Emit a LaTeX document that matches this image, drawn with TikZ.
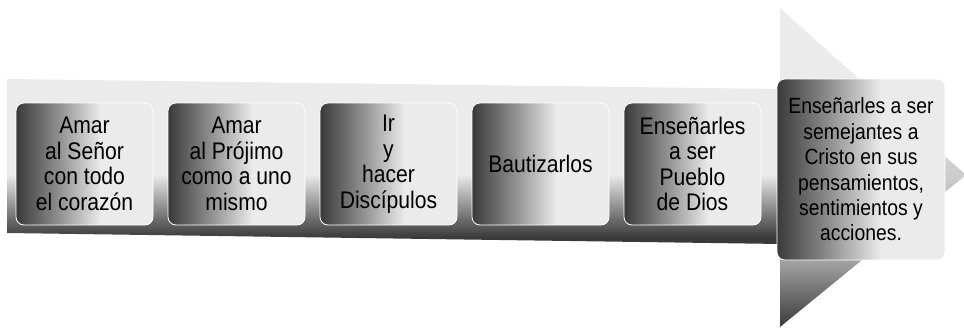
\documentclass[tikz,border=0pt]{standalone}
\usepackage{fontspec}
\setmainfont{Liberation Sans}[FakeStretch=0.88]
\usetikzlibrary{shapes.geometric, positioning, calc}

\definecolor{greylight}{HTML}{EBEBEB}
\definecolor{greydark}{HTML}{3A3A3A}
\definecolor{greymid}{HTML}{8C8C8C}

\pgfdeclarehorizontalshading{stepshade}{100bp}{color(0bp)=(greydark); color(25bp)=(greydark); color(40bp)=(greymid); color(56bp)=(greylight); color(100bp)=(greylight)}
\pgfdeclareverticalshading{barshade}{100bp}{color(0bp)=(greydark); color(27bp)=(greydark); color(36bp)=(greymid); color(46bp)=(greylight); color(100bp)=(greylight)}
\pgfdeclareverticalshading{headshade}{100bp}{color(0bp)=(greydark); color(25bp)=(greydark); color(36bp)=(greymid!70!greylight); color(50bp)=(greylight!88!black); color(58bp)=(greylight); color(100bp)=(greylight)}

\tikzset{
  stepbox/.style={shade, shading=stepshade, draw=white, line width=0.8pt, rounded corners=8pt,
    align=center, inner sep=0pt, minimum width=137pt, minimum height=122pt,
    font=\fontsize{24}{25.5}\selectfont},
  lastbox/.style={stepbox, minimum width=168pt, minimum height=181pt,
    font=\fontsize{22}{25.4}\selectfont},
}

\begin{document}
\begin{tikzpicture}[x=1pt,y=-1pt]

\useasboundingbox (0,0) rectangle (964,327);

% arrow head and shaft
\shade[shading=headshade] (780,8) -- (966,175) -- (780,327) -- cycle;
\shade[shading=barshade] (7,79) -- (781,89) -- (781,244) -- (7,233) -- cycle;

\def\ybox{164}

\node[stepbox] (senor) at (84.5,\ybox) {Amar\\al Señor\\con todo\\el corazón};
\node[stepbox] (projimo) at (236.5,\ybox) {Amar\\al Prójimo\\como a uno\\mismo};
\node[stepbox] (discipulos) at (388.5,\ybox) {Ir\\y\\hacer\\Discípulos};
\node[stepbox] (bautizar) at (540.5,\ybox) {Bautizarlos};
\node[stepbox] (pueblo) at (692.5,\ybox) {Enseñarles\\a ser\\Pueblo\\de Dios};

\node[lastbox] (cristo) at (861,169.5) {Enseñarles a ser\\semejantes a\\Cristo en sus\\pensamientos,\\sentimientos y\\acciones.};

\end{tikzpicture}
\end{document}
